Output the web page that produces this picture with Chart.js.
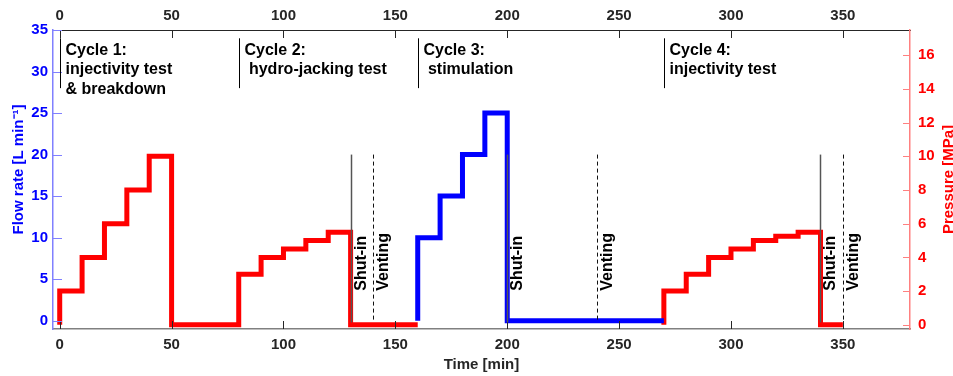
<!DOCTYPE html>
<html>
<head>
<meta charset="utf-8">
<script src="https://cdn.jsdelivr.net/npm/chart.js@4.4.0/dist/chart.umd.min.js"></script>
<style>
  body { margin: 0; background: #fff; }
  #wrap { width: 953px; height: 376px; position: relative; }
</style>
</head>
<body>
<div id="wrap"><canvas id="chart"></canvas></div>
<script>
// --- DATA (step series: value holds until the next time) ---
const pressureTimeA = [0, 0, 10, 20, 30, 40, 50, 80, 90, 100, 110, 120, 130, 160];
const pressureA     = [0, 2, 4, 6, 8, 10, 0, 3, 4, 4.5, 5, 5.5, 0, 0];
const flowTime      = [160, 160, 170, 180, 190, 200, 270];
const flowRate      = [0, 10, 15, 20, 25, 0, 0];
const pressureTimeB = [270, 270, 280, 290, 300, 310, 320, 330, 340, 350];
const pressureB     = [0, 2, 3, 4, 4.5, 5, 5.25, 5.5, 0, 0];

const cycleStart  = [0, 80, 160, 270];
const cycleLabels = [
  ["Cycle 1:", "injectivity test", "& breakdown"],
  ["Cycle 2:", " hydro-jacking test"],
  ["Cycle 3:", " stimulation"],
  ["Cycle 4:", "injectivity test"]
];
const shutInTimes  = [130, 200, 340];
const ventingTimes = [140, 240, 350];

const timeTicks     = [0, 50, 100, 150, 200, 250, 300, 350];
const flowTicks     = [0, 5, 10, 15, 20, 25, 30, 35];
const pressureTicks = [0, 2, 4, 6, 8, 10, 12, 14, 16];

// --- STYLE ---
const FONT = "'Liberation Sans', Arial, sans-serif";
const BLUE = '#0000ff', RED = '#ff0000';
const BLUE_AXIS = '#8080ff', RED_AXIS = '#ff8080';
const DARK = '#262626';

const toXY = (xs, ys) => xs.map((x, i) => ({ x: x, y: ys[i] }));
const fixTicks = list => scale => { scale.ticks = list.map(v => ({ value: v })); };

// inward tick marks (MATLAB style) + axis titles on the y sides
const innerTicks = {
  id: 'innerTicks',
  afterDatasetsDraw(chart) {
    const ctx = chart.ctx, a = chart.chartArea;
    const sx = chart.scales.x, sy = chart.scales.y, sy2 = chart.scales.y2;
    ctx.save();
    ctx.lineWidth = 1;
    const seg = (x1, y1, x2, y2) => { ctx.beginPath(); ctx.moveTo(x1, y1); ctx.lineTo(x2, y2); ctx.stroke(); };

    ctx.strokeStyle = DARK;
    timeTicks.forEach(v => {
      const px = Math.round(sx.getPixelForValue(v)) + 0.5;
      seg(px, a.bottom, px, a.bottom - 8);
      seg(px, a.top, px, a.top + 8);
    });
    ctx.strokeStyle = BLUE_AXIS;
    flowTicks.forEach(v => {
      const py = Math.round(sy.getPixelForValue(v)) + 0.5;
      seg(a.left, py, a.left + 9, py);
    });
    ctx.strokeStyle = RED_AXIS;
    pressureTicks.forEach(v => {
      const py = Math.round(sy2.getPixelForValue(v)) + 0.5;
      seg(a.right, py, a.right - 7, py);
    });

    // y axis titles, both reading bottom-to-top
    const midY = (a.top + a.bottom) / 2;
    ctx.font = 'bold 15px ' + FONT;
    ctx.textBaseline = 'alphabetic';
    ctx.textAlign = 'center';
    ctx.fillStyle = BLUE;
    ctx.translate(22.5, midY - 10);
    ctx.rotate(-Math.PI / 2);
    ctx.fillText('Flow rate [L min\u207B\u00B9]', 0, 0);
    ctx.setTransform(1, 0, 0, 1, 0, 0);
    ctx.fillStyle = RED;
    ctx.translate(chart.width, midY);
    ctx.rotate(-Math.PI / 2);
    ctx.fillText('Pressure [MPa]', 0, 0);
    ctx.restore();
  }
};

// cycle separators, shut-in / venting markers and their labels
const markers = {
  id: 'markers',
  afterDatasetsDraw(chart) {
    const ctx = chart.ctx;
    const sx = chart.scales.x, sy = chart.scales.y;
    ctx.save();
    ctx.font = 'bold 16px ' + FONT;
    ctx.fillStyle = '#000';

    // cycles
    cycleStart.forEach((t, i) => {
      const px = Math.round(sx.getPixelForValue(t)) + 0.5;
      ctx.strokeStyle = '#000';
      ctx.lineWidth = 1;
      ctx.beginPath();
      ctx.moveTo(px, sy.getPixelForValue(34));
      ctx.lineTo(px, sy.getPixelForValue(28));
      ctx.stroke();
      ctx.textAlign = 'left';
      ctx.textBaseline = 'alphabetic';
      cycleLabels[i].forEach((line, j) => {
        ctx.fillText(line, px + 5, sy.getPixelForValue(32) + j * 19.5);
      });
    });

    const vline = (t, label, dash, color, width) => {
      const px = Math.round(sx.getPixelForValue(t)) + 0.5;
      ctx.save();
      ctx.strokeStyle = color;
      ctx.lineWidth = width;
      ctx.setLineDash(dash);
      ctx.beginPath();
      ctx.moveTo(px, sy.getPixelForValue(20));
      ctx.lineTo(px, sy.getPixelForValue(-0.2));
      ctx.stroke();
      ctx.restore();
      ctx.save();
      ctx.translate(px + 10, sy.getPixelForValue(3.6));
      ctx.rotate(-Math.PI / 2);
      ctx.textAlign = 'left';
      ctx.textBaseline = 'middle';
      ctx.fillText(label, 0, 0);
      ctx.restore();
    };
    shutInTimes.forEach(t => vline(t, 'Shut-in', [], '#555', 1.5));
    ventingTimes.forEach(t => vline(t, 'Venting', [4, 3], '#111', 1));
    ctx.restore();
  }
};

const lineStyle = color => ({
  borderColor: color,
  borderWidth: 5,
  stepped: true,
  pointRadius: 0,
  fill: false,
  borderJoinStyle: 'miter',
  borderCapStyle: 'butt'
});

const tickFont = { family: FONT, size: 15, weight: 'bold' };

new Chart(document.getElementById('chart'), {
  type: 'line',
  data: {
    datasets: [
      Object.assign({ label: 'Flow rate', data: toXY(flowTime, flowRate), yAxisID: 'y' }, lineStyle(BLUE)),
      Object.assign({ label: 'Pressure A', data: toXY(pressureTimeA, pressureA), yAxisID: 'y2' }, lineStyle(RED)),
      Object.assign({ label: 'Pressure B', data: toXY(pressureTimeB, pressureB), yAxisID: 'y2' }, lineStyle(RED))
    ]
  },
  options: {
    responsive: true,
    maintainAspectRatio: false,
    animation: false,
    layout: { padding: 0 },
    plugins: { legend: { display: false }, tooltip: { enabled: false } },
    scales: {
      x: {
        type: 'linear', position: 'bottom', min: -3, max: 380,
        afterBuildTicks: fixTicks(timeTicks),
        afterFit: s => { s.height = 47; },
        grid: { display: false, drawTicks: false },
        border: { color: '#808080', width: 1.5 },
        ticks: { color: DARK, font: tickFont, padding: 7, maxRotation: 0, autoSkip: false },
        title: { display: true, text: 'Time [min]', color: DARK, font: tickFont, padding: { top: 0, bottom: 2 } }
      },
      x2: {
        type: 'linear', position: 'top', min: -3, max: 380,
        afterBuildTicks: fixTicks(timeTicks),
        afterFit: s => { s.height = 30; },
        grid: { display: false, drawTicks: false },
        border: { color: DARK, width: 1 },
        ticks: { color: DARK, font: tickFont, padding: 5, maxRotation: 0, autoSkip: false }
      },
      y: {
        position: 'left', min: -1, max: 35,
        afterBuildTicks: fixTicks(flowTicks),
        afterFit: s => { s.width = 53; },
        grid: { display: false, drawTicks: false },
        border: { color: BLUE_AXIS, width: 1.5 },
        ticks: { color: BLUE, font: tickFont, padding: 5 }
      },
      y2: {
        position: 'right', min: -0.25, max: 17.5,
        afterBuildTicks: fixTicks(pressureTicks),
        afterFit: s => { s.width = 43; },
        grid: { display: false, drawTicks: false },
        border: { color: RED_AXIS, width: 1.5 },
        ticks: { color: RED, font: tickFont, padding: 8 }
      }
    }
  },
  plugins: [innerTicks, markers]
});
</script>
</body>
</html>
